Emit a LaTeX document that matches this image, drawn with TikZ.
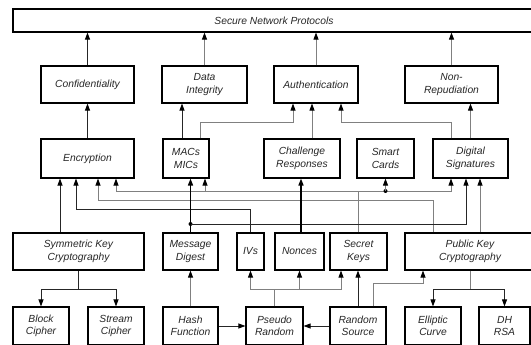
\documentclass[tikz,border=0pt]{standalone}
\usepackage{fontspec}
\setmainfont{Liberation Sans}
\usetikzlibrary{arrows.meta}

\tikzset{
    blk/.style   = {draw, line width=1.1pt, inner sep=0pt, align=center, text=black!85,
                    font=\itshape\fontsize{10.3}{12.5}\selectfont},
    wire/.style  = {line width=0.8pt, draw=black!85},
    dim/.style   = {line width=0.8pt, draw=black!50},
    heavy/.style = {line width=1.5pt, draw=black},
    arr/.style   = {-{Triangle[width=5pt,length=7pt,color=black]}},
    junc/.style  = {circle, fill=black, inner sep=0pt, minimum size=4pt},
}

\begin{document}
\begin{tikzpicture}[x=1pt, y=-1pt]
            \useasboundingbox (0,0) rectangle (531,345);

            \def \ytop    {20.5};
            \def \ygoal   {84.5};
            \def \ytool   {158.5};
            \def \yprim   {251.5};
            \def \ybase   {326};

            \def \yauth   {122};   % into authentication
            \def \ykey    {191};   % secret keys
            \def \ypk     {200};   % public key
            \def \yiv     {209};   % ivs
            \def \ymd     {224};   % digest
            \def \yrand   {283};
            \def \ysplit  {289};
% top
            \node [blk, minimum width=522pt, minimum height=23pt] (top) at (274, \ytop) {Secure Network Protocols};
% goals
            \node [blk, minimum width=93pt, minimum height=37pt] (conf)   at (87.5, \ygoal)  {Confidentiality};
            \node [blk, minimum width=85pt, minimum height=37pt] (integ)  at (204.5, \ygoal) {Data\\Integrity};
            \node [blk, minimum width=84pt, minimum height=37pt] (auth)   at (316, \ygoal)   {Authentication};
            \node [blk, minimum width=93pt, minimum height=37pt] (nonrep) at (451.5, \ygoal) {Non-\\Repudiation};
% mechanisms
            \node [blk, minimum width=93pt, minimum height=39pt] (enc)   at (87.5, \ytool)  {Encryption};
            \node [blk, minimum width=46pt, minimum height=39pt] (mac)   at (186, \ytool)   {MACs\\MICs};
            \node [blk, minimum width=76pt, minimum height=39pt] (chal)  at (302, \ytool)   {Challenge\\Responses};
            \node [blk, minimum width=57pt, minimum height=39pt] (smart) at (385.5, \ytool) {Smart\\Cards};
            \node [blk, minimum width=75pt, minimum height=39pt] (dsig)  at (470.5, \ytool) {Digital\\Signatures};
% primitives
            \node [blk, minimum width=131pt, minimum height=37pt] (sym)   at (78.5, \yprim)  {Symmetric Key\\Cryptography};
            \node [blk, minimum width=55pt, minimum height=37pt]  (md)    at (190.5, \yprim) {Message\\Digest};
            \node [blk, minimum width=27pt, minimum height=37pt]  (iv)    at (250.5, \yprim) {IVs};
            \node [blk, minimum width=49pt, minimum height=37pt]  (nonce) at (299.5, \yprim) {Nonces};
            \node [blk, minimum width=57pt, minimum height=37pt]  (skey)  at (358.5, \yprim) {Secret\\Keys};
            \node [blk, minimum width=130pt, minimum height=37pt] (pk)    at (470, \yprim)   {Public Key\\Cryptography};
% building blocks
            \node [blk, minimum width=56pt, minimum height=38pt] (block)  at (41, \ybase)    {Block\\Cipher};
            \node [blk, minimum width=56pt, minimum height=38pt] (stream) at (116, \ybase)   {Stream\\Cipher};
            \node [blk, minimum width=55pt, minimum height=38pt] (hash)   at (190.5, \ybase) {Hash\\Function};
            \node [blk, minimum width=57pt, minimum height=38pt] (prng)   at (274.5, \ybase) {Pseudo\\Random};
            \node [blk, minimum width=56pt, minimum height=38pt] (rsrc)   at (358, \ybase)   {Random\\Source};
            \node [blk, minimum width=56pt, minimum height=38pt] (ecc)    at (433, \ybase)   {Elliptic\\Curve};
            \node [blk, minimum width=51pt, minimum height=38pt] (dh)     at (504.5, \ybase) {DH\\RSA};

% goals into the top
            \draw [wire, arr] (conf.north) -- (conf.north |- top.south);
            \draw [dim, arr] (integ.north) -- (integ.north |- top.south);
            \draw [dim, arr] (auth.north) -- (auth.north |- top.south);
            \draw [dim, arr] (nonrep.north) -- (nonrep.north |- top.south);

% mechanisms into goals
            \draw [wire, arr] (enc.north) -- (conf.south);
            \draw [wire, arr] ([xshift=-4pt]mac.north) -- ([xshift=-4pt]mac.north |- integ.south);
            \draw [dim, arr] ([xshift=14pt]mac.north) -- ([xshift=14pt]mac.north |- 0,\yauth) -| ([xshift=-23pt]auth.south);
            \draw [dim, arr] ([xshift=10pt]chal.north) -- ([xshift=10pt]chal.north |- auth.south);
            \draw [dim, arr] ([xshift=-19pt]dsig.north) -- ([xshift=-19pt]dsig.north |- 0,\yauth) -| ([xshift=25pt]auth.south);
            \draw [dim, arr] (dsig.north) -- (dsig.north |- nonrep.south);

% primitives into mechanisms
            \draw [wire, arr] ([xshift=-18.5pt]sym.north) -- ([xshift=-18.5pt]sym.north |- enc.south);
            \draw [wire, arr] (iv.north) -- (iv.north |- 0,\yiv) -| ([xshift=-11.5pt]enc.south);
            \draw [dim, arr] ([xshift=-37pt]pk.north) -- ([xshift=-37pt]pk.north |- 0,\ypk) -| ([xshift=10.5pt]enc.south);

            \coordinate (keybus) at (skey.north |- 0,\ykey);
            \draw [dim] (skey.north) -- (keybus);
            \draw [dim, arr] (keybus) -| ([xshift=28.5pt]enc.south);
            \draw [dim, arr] (keybus) -| ([xshift=19pt]mac.south);
            \draw [dim, arr] (keybus) -| ([xshift=-19.5pt]dsig.south);
            \node [junc] (keydot) at (keybus -| smart.south) {};
            \draw [dim, arr] (keydot.center) -- (smart.south);

            \draw [heavy, arr] (md.north) -- (md.north |- mac.south);
            \node [junc] (mddot) at (md.north |- 0,\ymd) {};
            \draw [wire, arr] (mddot.center) -| ([xshift=-4.5pt]dsig.south);
            \draw [dim, arr] ([xshift=10pt]pk.north) -- ([xshift=10pt]pk.north |- dsig.south);
            \draw [heavy, arr] ([xshift=1.5pt]nonce.north) -- ([xshift=1.5pt]nonce.north |- chal.south);

% building blocks
            \draw [wire] (sym.south) -- (sym.south |- 0,\ysplit) coordinate (symsplit);
            \draw [wire, arr] (symsplit) -| (block.north);
            \draw [wire, arr] (symsplit) -| (stream.north);
            \draw [dim] (pk.south) -- (pk.south |- 0,\ysplit) coordinate (pksplit);
            \draw [wire, arr] (pksplit) -| (ecc.north);
            \draw [wire, arr] (pksplit) -| (dh.north);

            \draw [dim, arr] (hash.north) -- (md.south);
            \draw [wire, arr] (hash.east) -- (prng.west);
            \draw [wire, arr] (rsrc.west) -- (prng.east);
            \draw [dim] (prng.north) -- (prng.north |- 0,\ysplit) coordinate (prsplit);
            \draw [dim, arr] (prsplit) -| (iv.south);
            \draw [dim, arr] (prsplit) -| (nonce.south);
            \draw [dim, arr] (prsplit) -| ([xshift=-17.5pt]skey.south);
            \draw [wire, arr] (rsrc.north) -- (rsrc.north |- skey.south);
            \draw [dim, arr] ([xshift=15pt]rsrc.north) -- ([xshift=15pt]rsrc.north |- 0,\yrand) -| ([xshift=-47pt]pk.south);
\end{tikzpicture}
\end{document}
